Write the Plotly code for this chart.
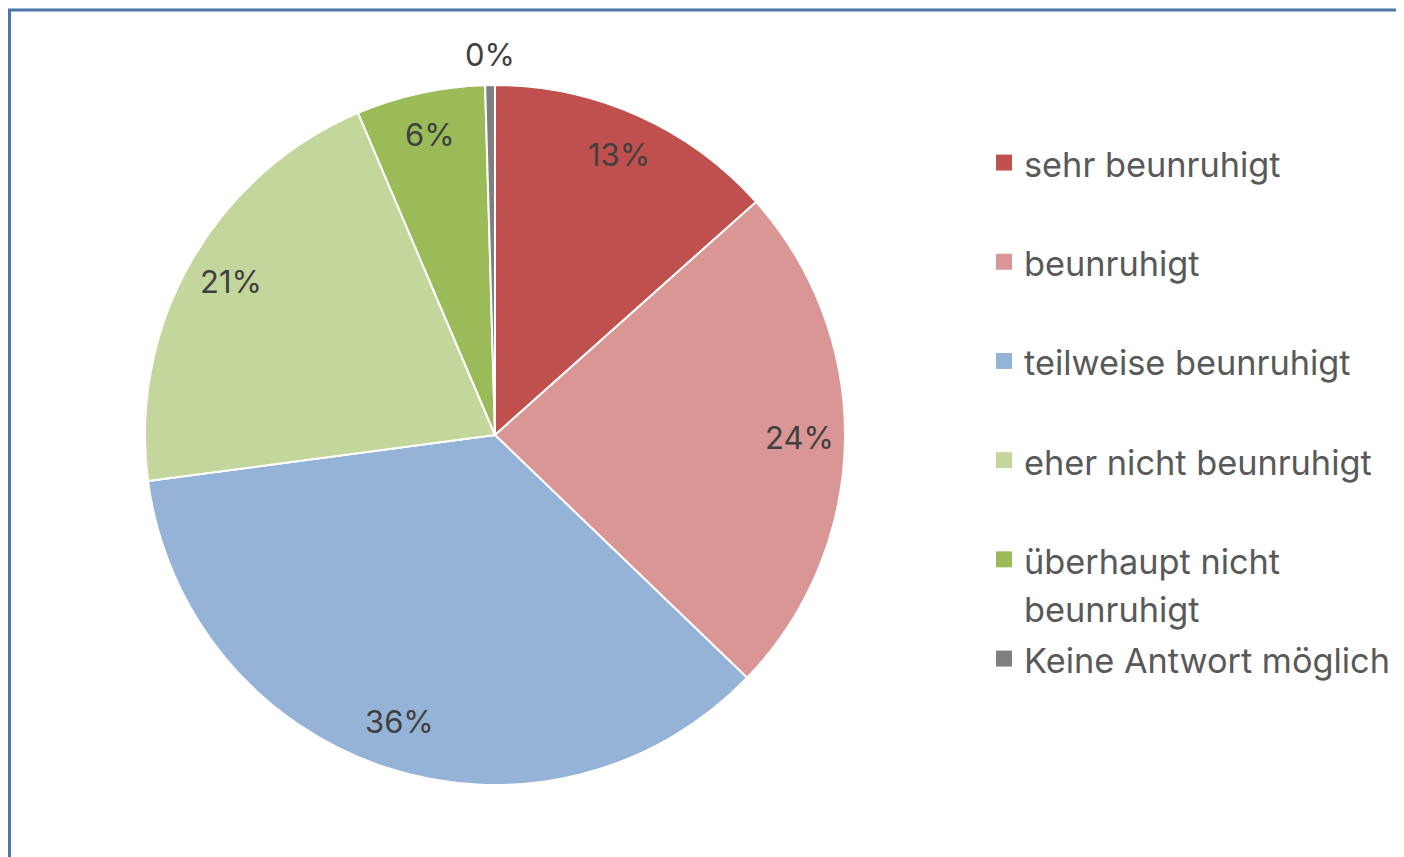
import math
import plotly.graph_objects as go

# ---- data ----
categories = ["sehr beunruhigt", "beunruhigt", "teilweise beunruhigt",
              "eher nicht beunruhigt", "überhaupt nicht beunruhigt",
              "Keine Antwort möglich"]
shares = [13.4, 23.8, 35.7, 20.7, 5.95, 0.45]
colors = ["#c0504d", "#d99694", "#95b3d7", "#c3d69b", "#9bbb59", "#7f7f7f"]
legend_wrap = [["sehr beunruhigt"], ["beunruhigt"], ["teilweise beunruhigt"],
               ["eher nicht beunruhigt"], ["überhaupt nicht", "beunruhigt"],
               ["Keine Antwort möglich"]]

# ---- layout constants (page has an 8px body offset) ----
OFF = 8
W, H = 1404, 857
CX, CY, R = 495 - OFF, 435 - OFF, 350
FONT = "Inter"
LBL_SIZE = 31
LEG_TXT = 34.3
LEG_F = 37.0

def span(t):
    return f"<span style='font-size:{LEG_TXT}px'>{t}</span>"

legend_labels = []
for lines in legend_wrap:
    parts = [span(l) for l in lines]
    if len(parts) == 1:
        parts.append(" ")
    legend_labels.append("<br>".join(parts))

fig = go.Figure()
fig.add_trace(go.Pie(
    labels=categories,
    values=shares,
    sort=False,
    direction="clockwise",
    rotation=0,
    marker=dict(colors=colors, line=dict(color="white", width=2)),
    textinfo="none",
    hoverinfo="label+percent",
    showlegend=False,
    domain=dict(x=[(CX - R) / W, (CX + R) / W],
                y=[(H - CY - R) / H, (H - CY + R) / H]),
))

# legend entries (square keys) for each category
for lab, col in zip(legend_labels, colors):
    fig.add_trace(go.Scatter(
        x=[None], y=[None], mode="markers", name=lab,
        marker=dict(symbol="square", size=16, color=col,
                    line=dict(width=0)),
        hoverinfo="skip", showlegend=True))

# percentage labels placed at slice mid-angles computed from the data
total = sum(shares)
annotations = []
cum = 0.0
for i, v in enumerate(shares):
    mid = (cum + v / 2) / total
    cum += v
    theta = 2 * math.pi * mid
    rr = R * (0.87 if i < len(shares) - 1 else 1.08)
    px = CX + rr * math.sin(theta)
    py = CY - rr * math.cos(theta) - 3
    annotations.append(dict(
        x=px / W, y=1 - py / H, xref="paper", yref="paper",
        text=f"{round(v / total * 100):.0f}%", showarrow=False,
        font=dict(family=FONT, size=LBL_SIZE, color="#404040"),
        xanchor="center", yanchor="middle"))

fig.update_layout(
    width=W, height=H,
    margin=dict(l=0, r=0, t=0, b=0, autoexpand=False),
    paper_bgcolor="white",
    plot_bgcolor="white",
    xaxis=dict(visible=False),
    yaxis=dict(visible=False),
    showlegend=True,
    legend=dict(x=(984 - OFF) / W, y=1 - (132 - OFF) / H,
                xanchor="left", yanchor="top",
                font=dict(family=FONT, size=LEG_F, color="#595959"),
                valign="top", traceorder="normal",
                bgcolor="rgba(0,0,0,0)"),
    annotations=annotations,
    shapes=[dict(type="rect", xref="paper", yref="paper",
                 x0=(9.5 - OFF) / W, x1=1.05, y0=-0.05, y1=1 - (10 - OFF) / H,
                 line=dict(color="#4a76a8", width=3))],
)

fig.write_html("out.html")
